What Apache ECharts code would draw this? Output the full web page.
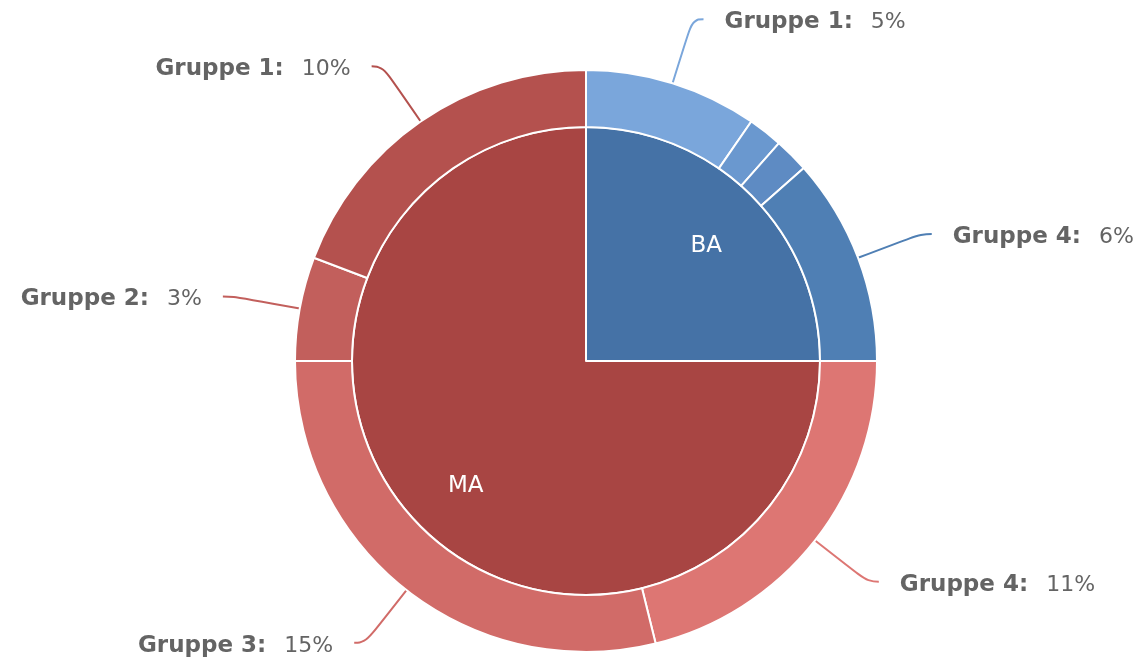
<!DOCTYPE html>
<html>
<head>
<meta charset="utf-8">
<script src="https://cdn.jsdelivr.net/npm/echarts@6/dist/echarts.min.js"></script>
<style>html,body{margin:0;padding:0;background:#fff}#c{width:1146px;height:659px}</style>
</head>
<body>
<div id="c"></div>
<script>
const innerNames = ['BA', 'MA'];
const baGroups = ['Gruppe 1', 'Gruppe 2', 'Gruppe 3', 'Gruppe 4'];
const baValues = [5, 1, 1, 6];
const maGroups = ['Gruppe 4', 'Gruppe 3', 'Gruppe 2', 'Gruppe 1'];
const maValues = [11, 15, 3, 10];

const innerColors = ['#4572a6', '#a84543'];
const baColors = ['#7aa6db', '#6a98cf', '#5e8bc3', '#4f7fb4'];
const maColors = ['#dd7673', '#d16b68', '#c25f5c', '#b4514e'];

const sum = a => a.reduce((s, v) => s + v, 0);
const innerValues = [sum(baValues), sum(maValues)];

const innerData = innerNames.map((n, i) => ({ name: n, value: innerValues[i], itemStyle: { color: innerColors[i] } }));
const outerData = [
  ...baGroups.map((n, i) => ({ name: n, value: baValues[i], itemStyle: { color: baColors[i] }, label: { show: baValues[i] > 1 }, labelLine: { show: baValues[i] > 1 } })),
  ...maGroups.map((n, i) => ({ name: n, value: maValues[i], itemStyle: { color: maColors[i] } }))
];

const center = [586, 361];
const chart = echarts.init(document.getElementById('c'), null, { renderer: 'canvas' });
chart.setOption({
  animation: false,
  backgroundColor: '#fff',
  series: [
    {
      type: 'pie', center, radius: [0, 234], startAngle: 90, clockwise: true,
      silent: true, label: { show: false }, labelLine: { show: false },
      itemStyle: { borderColor: '#fff', borderWidth: 2 },
      data: innerData
    },
    {
      type: 'pie', center, radius: [100, 234], startAngle: 90, clockwise: true,
      silent: true,
      itemStyle: { color: 'rgba(0,0,0,0)', borderWidth: 0 },
      label: { show: true, position: 'inside', color: '#fff', fontFamily: 'DejaVu Sans', fontSize: 23, formatter: '{b}' },
      labelLayout: { dy: 5 },
      labelLine: { show: false },
      data: innerNames.map((n, i) => ({ name: n, value: innerValues[i] }))
    },
    {
      type: 'pie', center, radius: [234, 291], startAngle: 90, clockwise: true,
      silent: true, avoidLabelOverlap: false,
      itemStyle: { borderColor: '#fff', borderWidth: 2 },
      label: {
        show: true, position: 'outside', overflow: 'none', distanceToLabelLine: 21,
        padding: [6, 0, 0, 0],
        formatter: '{n|{b}:}{v|{c}%}',
        rich: {
          n: { fontFamily: 'DejaVu Sans', fontWeight: 'bold', fontSize: 23, color: '#646464' },
          v: { fontFamily: 'DejaVu Sans', fontSize: 22, color: '#646464', padding: [0, 0, 0, 18] }
        }
      },
      labelLine: { show: true, length: 67, length2: 11, smooth: 0.5, lineStyle: { width: 2 } },
      data: outerData
    }
  ]
});
</script>
</body>
</html>
